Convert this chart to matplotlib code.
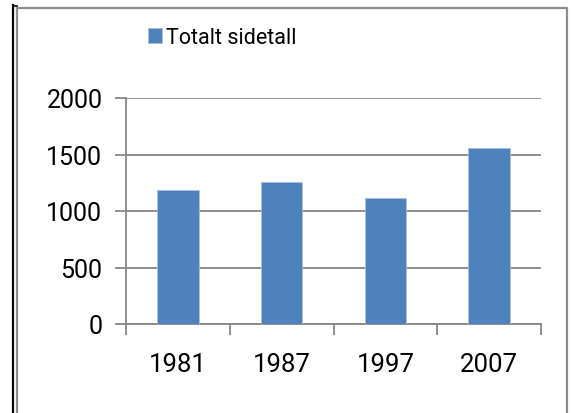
import matplotlib.pyplot as plt
from matplotlib.lines import Line2D
import numpy as np

years = ["1981", "1987", "1997", "2007"]
pages = [1186, 1257, 1115, 1560]
series_name = "Totalt sidetall"

plt.rcParams['font.family'] = ['Roboto', 'DejaVu Sans']

W, H = 571, 414
fig = plt.figure(figsize=(W / 100, H / 100), dpi=100)

# outer frame (gray chart border + black line at left)
top = 1 - 8.5 / H
fig.add_artist(Line2D([16.5 / W, 566.5 / W, 566.5 / W], [top, top, 0],
                      transform=fig.transFigure, color="#8c8c8c", lw=1.6))
fig.add_artist(Line2D([16.5 / W, 16.5 / W], [top, 0],
                      transform=fig.transFigure, color="#8c8c8c", lw=1.6))
fig.add_artist(Line2D([12.5 / W, 12.5 / W], [1 - 6 / H, 0],
                      transform=fig.transFigure, color="black", lw=1.6))
fig.add_artist(Line2D([12.5 / W, 16.5 / W], [1 - 6.5 / H, 1 - 6.5 / H],
                      transform=fig.transFigure, color="black", lw=1.2))

ax = fig.add_axes([126 / W, 89 / H, 415 / W, 226 / H])
x = np.arange(len(years))
ax.bar(x, pages, width=0.4, color="#4F81BD", edgecolor="#a9c0df", linewidth=0.6,
       label=series_name, zorder=3)

ax.set_xlim(-0.5, len(years) - 0.5)
ax.set_ylim(0, 2000)
ax.set_yticks([0, 500, 1000, 1500, 2000])
ax.yaxis.grid(True, color="#878787", lw=1.3, zorder=0)

ax.set_xticks(np.arange(-0.5, len(years), 1.0))
ax.set_xticklabels([])
ax.set_xticks(x, minor=True)
ax.set_xticklabels(years, minor=True)
ax.tick_params(axis="x", which="major", direction="out", length=8, width=1.3, color="#878787")
ax.tick_params(axis="x", which="minor", length=0, pad=20, labelsize=18.5)
ax.tick_params(axis="y", direction="out", length=8, width=1.3, color="#878787",
               pad=9, labelsize=18)

for s in ["top", "right"]:
    ax.spines[s].set_visible(False)
for s in ["left", "bottom"]:
    ax.spines[s].set_color("#878787")
    ax.spines[s].set_linewidth(1.3)

leg = ax.legend(loc="upper left", bbox_to_anchor=(148 / W, 1 - 28 / H),
                bbox_transform=fig.transFigure, frameon=False, fontsize=15.5,
                handlelength=0.65, handleheight=0.65, handletextpad=0.2,
                borderaxespad=0, borderpad=0)

fig.savefig("out.png", dpi=100)
